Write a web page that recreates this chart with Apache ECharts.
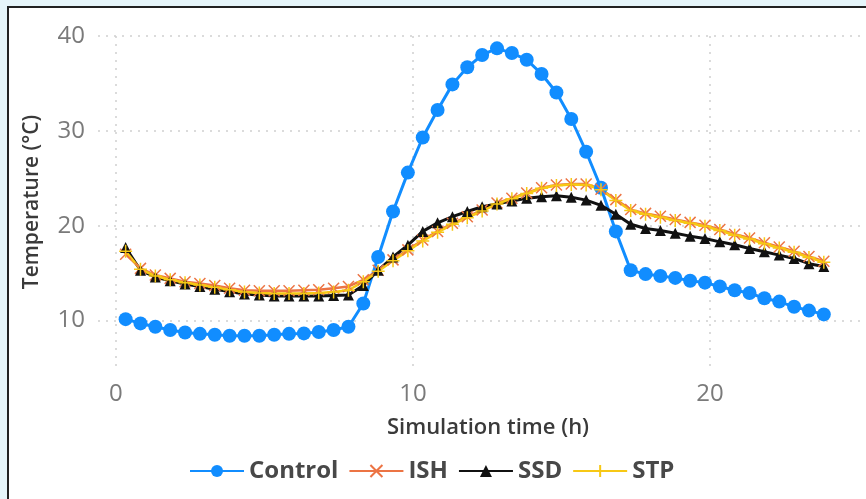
<!DOCTYPE html>
<html>
<head>
<meta charset="utf-8">
<title>Temperature</title>
<script src="https://cdn.jsdelivr.net/npm/echarts@6/dist/echarts.min.js"></script>
<style>
  html, body { margin: 0; padding: 0; }
  #chart { width: 866px; height: 499px; }
</style>
</head>
<body>
<div id="chart"></div>
<script>
// 时间 (h)
const times = [0.33, 0.83, 1.33, 1.83, 2.33, 2.83, 3.33, 3.83, 4.33, 4.83, 5.33, 5.83,
  6.33, 6.83, 7.33, 7.83, 8.33, 8.83, 9.33, 9.83, 10.33, 10.83, 11.33, 11.83,
  12.33, 12.83, 13.33, 13.83, 14.33, 14.83, 15.33, 15.83, 16.33, 16.83, 17.33, 17.83,
  18.33, 18.83, 19.33, 19.83, 20.33, 20.83, 21.33, 21.83, 22.33, 22.83, 23.33, 23.83];

// 各组温度 (°C)
const control = [10.15, 9.7, 9.35, 9.0, 8.75, 8.6, 8.5, 8.4, 8.4, 8.4, 8.5, 8.6,
  8.65, 8.8, 9.0, 9.35, 11.8, 16.7, 21.5, 25.6, 29.3, 32.2, 34.9, 36.7,
  38.0, 38.7, 38.2, 37.5, 36.0, 34.05, 31.25, 27.8, 24.0, 19.4, 15.3, 14.9,
  14.7, 14.5, 14.2, 14.0, 13.6, 13.2, 12.9, 12.35, 12.0, 11.45, 11.05, 10.65];
const ish = [17.0, 15.5, 14.8, 14.45, 14.1, 13.9, 13.7, 13.4, 13.2, 13.15, 13.15, 13.15,
  13.2, 13.25, 13.4, 13.6, 14.3, 15.3, 16.4, 17.45, 18.5, 19.4, 20.25, 20.95,
  21.65, 22.4, 22.9, 23.45, 24.0, 24.3, 24.4, 24.4, 23.85, 22.75, 21.7, 21.3,
  21.0, 20.65, 20.35, 20.05, 19.6, 19.1, 18.7, 18.2, 17.75, 17.3, 16.75, 16.25];
const ssd = [17.7, 15.3, 14.6, 14.2, 13.85, 13.6, 13.3, 13.05, 12.8, 12.7, 12.6, 12.6,
  12.6, 12.6, 12.65, 12.7, 13.7, 15.3, 16.7, 17.95, 19.4, 20.3, 20.95, 21.5,
  22.0, 22.3, 22.6, 22.9, 23.05, 23.15, 23.0, 22.7, 22.15, 21.2, 20.15, 19.7,
  19.5, 19.2, 18.9, 18.65, 18.3, 18.0, 17.6, 17.25, 16.9, 16.55, 16.0, 15.7];
const stp = [17.3, 15.4, 14.7, 14.3, 14.0, 13.75, 13.5, 13.25, 13.0, 12.9, 12.85, 12.85,
  12.85, 12.9, 13.0, 13.2, 14.1, 15.2, 16.3, 17.35, 18.4, 19.3, 20.15, 20.85,
  21.55, 22.3, 22.85, 23.4, 23.95, 24.25, 24.35, 24.3, 23.8, 22.65, 21.6, 21.2,
  20.9, 20.55, 20.25, 19.95, 19.5, 19.0, 18.6, 18.1, 17.65, 17.2, 16.65, 16.15];

// 刻度
const xTicks = [0, 10, 20];
const yTicks = [10, 20, 30, 40];

const pairs = (ys) => times.map((t, i) => [t, ys[i]]);

const gridLine = { show: true, lineStyle: { color: "#cfcfcf", type: [2, 6], width: 1.5 } };
const tickFont = { fontFamily: "Open Sans", fontSize: 24, color: "#7a7a7a" };

let chart = echarts.init(document.getElementById("chart"));
let option = {
  backgroundColor: "#e6f5fa",
  animation: false,
  // 外框
  graphic: [
    {
      type: "rect",
      z: -10,
      shape: { x: 8, y: 7, width: 880, height: 520 },
      style: { fill: "#fff", stroke: "#222", lineWidth: 2 },
    },
  ],
  grid: { left: 98, right: 0, top: 36, bottom: 131 },
  legend: {
    left: 184,
    top: 454,
    itemWidth: 54,
    itemHeight: 15,
    itemGap: 10,
    textStyle: { fontFamily: "Open Sans", fontSize: 24, fontWeight: "bold", color: "#484848" },
    data: ["Control", "ISH", "SSD", "STP"],
  },
  xAxis: {
    type: "value",
    min: -0.6,
    max: 25.25,
    name: "Simulation time (h)",
    nameLocation: "middle",
    nameGap: 49,
    nameTextStyle: { fontFamily: "Open Sans", fontSize: 22, fontWeight: 600, color: "#3a3a3a", padding: [0, 0, 0, 12] },
    axisLine: { show: false },
    axisTick: { show: false, customValues: xTicks },
    axisLabel: Object.assign({ customValues: xTicks, margin: 14 }, tickFont),
    splitLine: gridLine,
  },
  yAxis: {
    type: "value",
    min: 5,
    max: 40,
    name: "Temperature (°C)",
    nameLocation: "middle",
    nameGap: 55,
    nameTextStyle: { fontFamily: "Open Sans", fontSize: 21, fontWeight: 600, color: "#3a3a3a" },
    axisLine: { show: false },
    axisTick: { show: false, customValues: yTicks },
    axisLabel: Object.assign({ customValues: yTicks, margin: 13 }, tickFont),
    splitLine: gridLine,
  },
  series: [
    {
      name: "Control",
      type: "line",
      data: pairs(control),
      symbol: "circle",
      symbolSize: 14,
      lineStyle: { width: 3, color: "#118dff" },
      itemStyle: { color: "#118dff" },
    },
    {
      name: "ISH",
      type: "line",
      data: pairs(ish),
      symbol: "path://M0,0L10,10M10,0L0,10",
      symbolSize: 11,
      lineStyle: { width: 2.5, color: "#ec7444" },
      itemStyle: { color: "#ec7444", borderColor: "#ec7444", borderWidth: 1.5 },
    },
    {
      name: "SSD",
      type: "line",
      data: pairs(ssd),
      symbol: "triangle",
      symbolSize: 11,
      lineStyle: { width: 3, color: "#111" },
      itemStyle: { color: "#111" },
    },
    {
      name: "STP",
      type: "line",
      data: pairs(stp),
      symbol: "path://M5,0L5,10M0,5L10,5",
      symbolSize: 13,
      lineStyle: { width: 2.5, color: "#f7c815" },
      itemStyle: { color: "#f7c815", borderColor: "#f7c815", borderWidth: 1.5 },
    },
  ],
};
chart.setOption(option);
</script>
</body>
</html>
